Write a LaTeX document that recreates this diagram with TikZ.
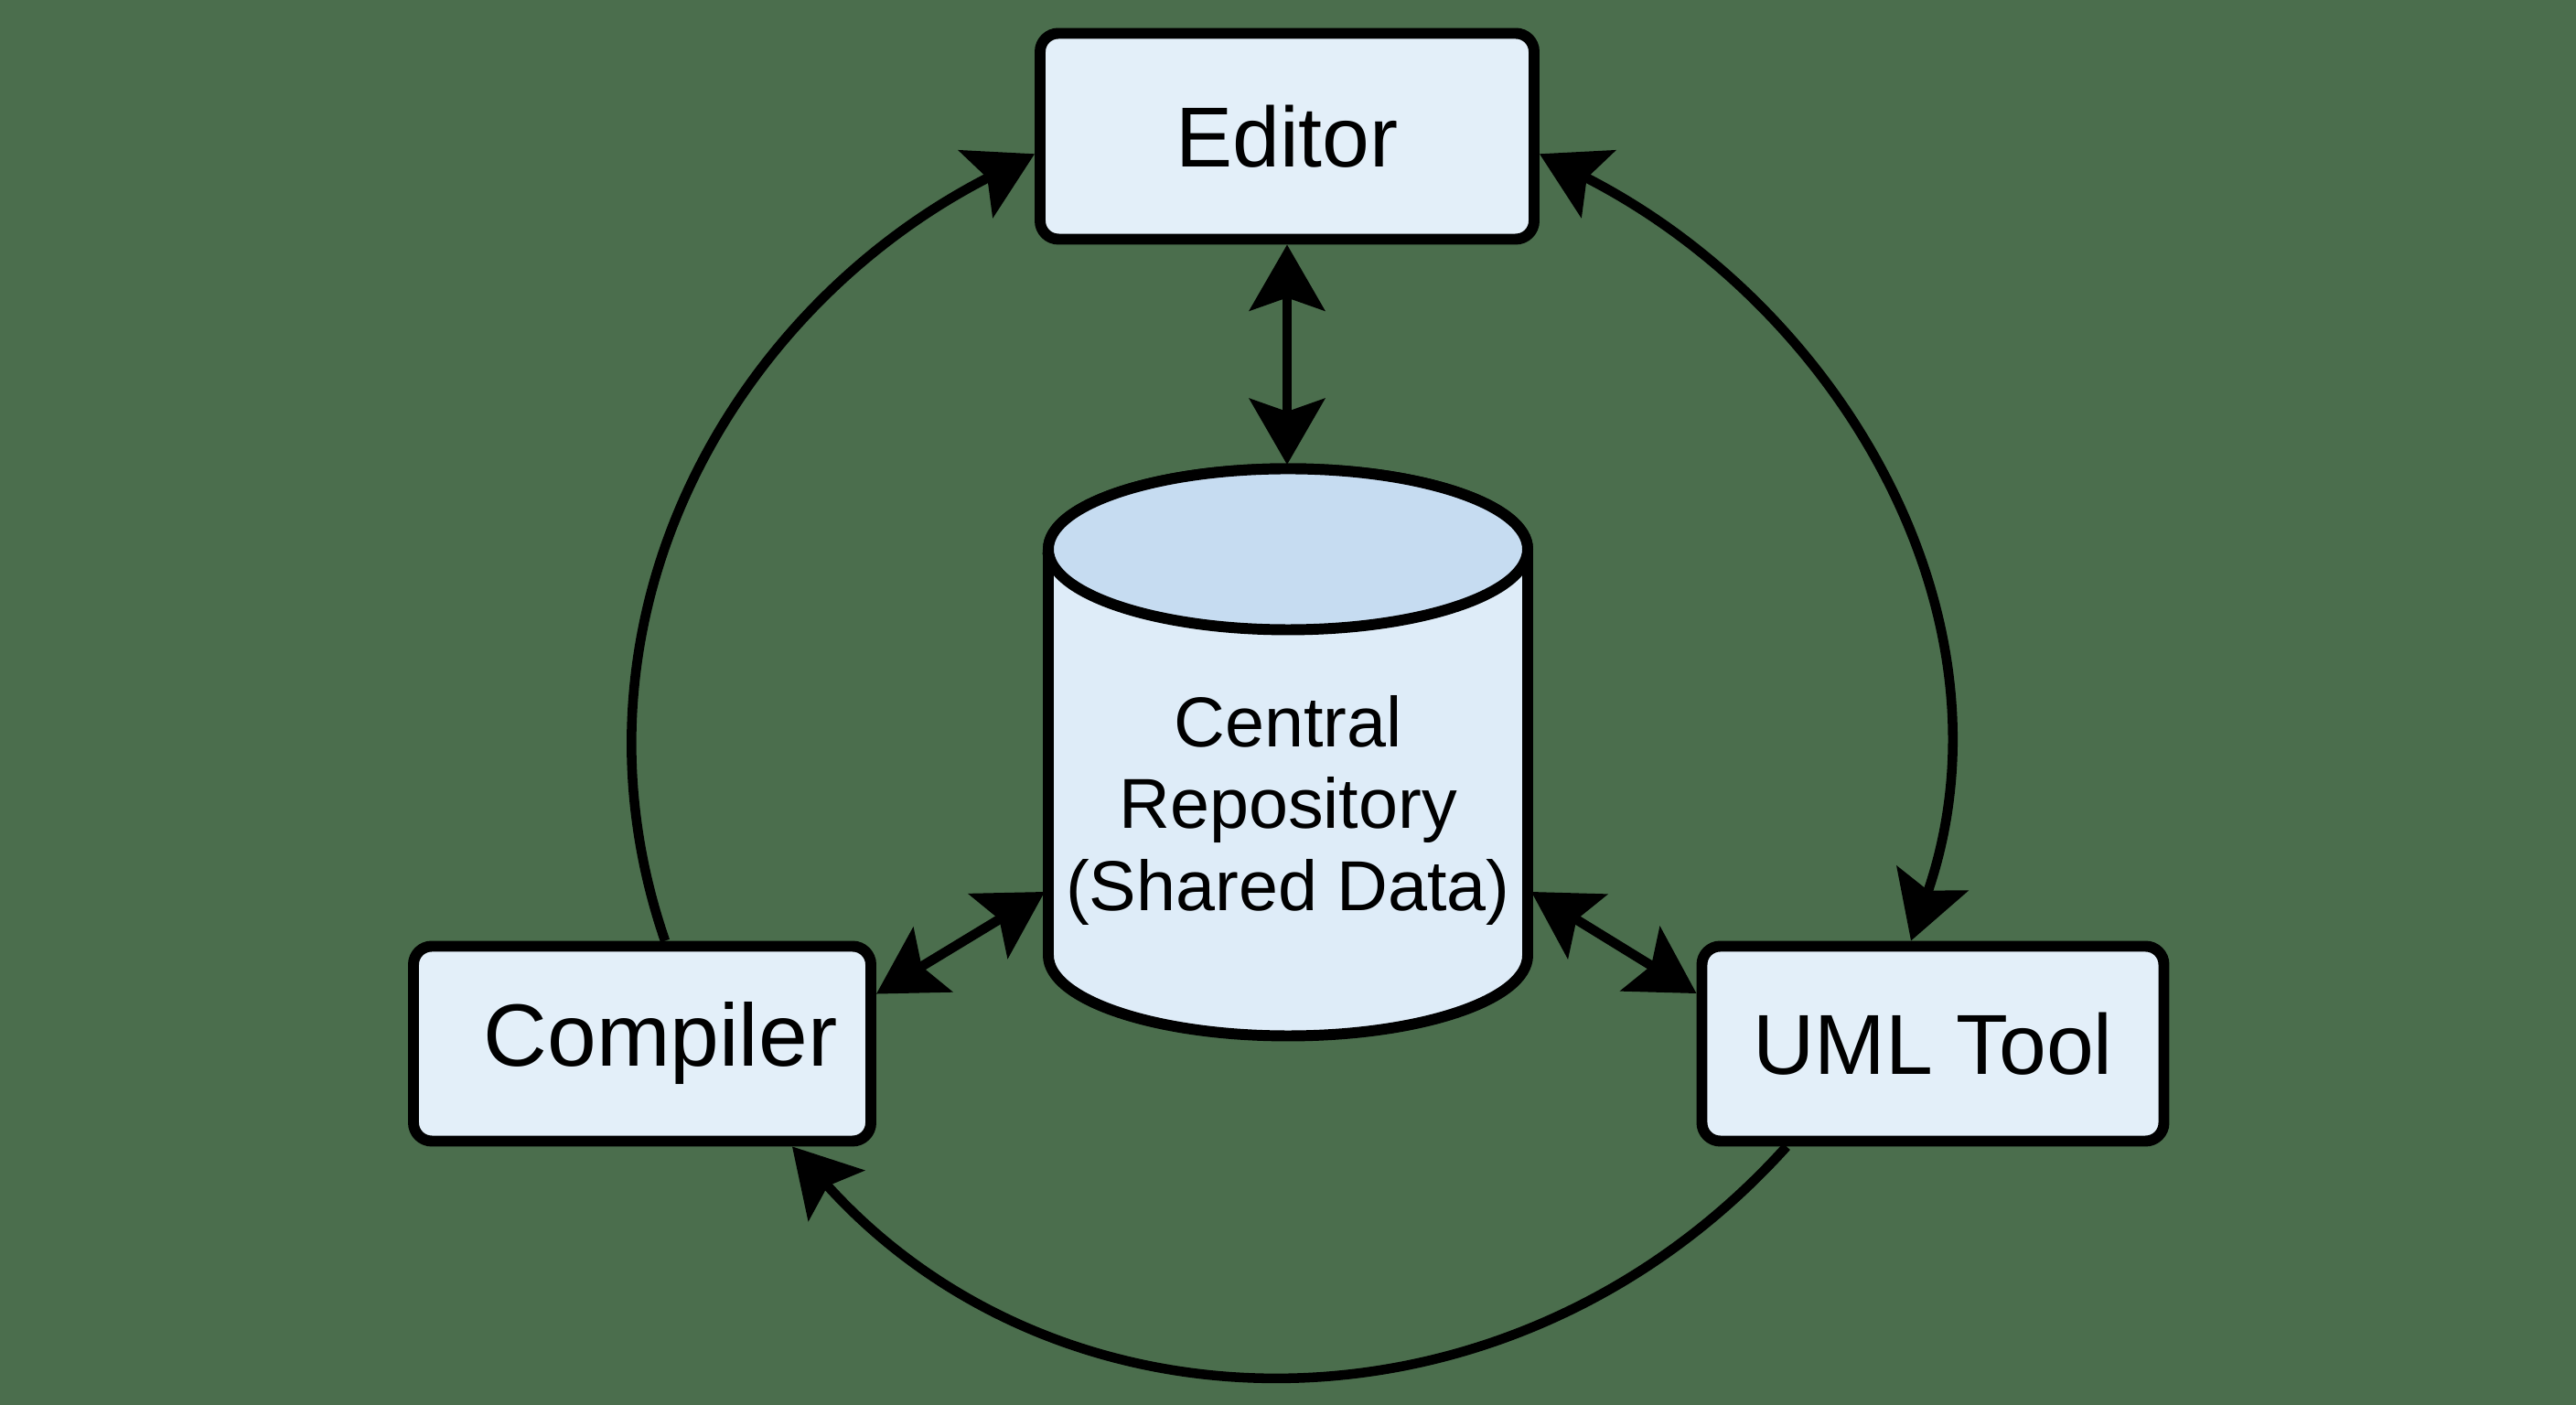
\documentclass[tikz,border=0pt]{standalone}
\usepackage{fontspec}
\setmainfont{Liberation Sans}
\usetikzlibrary{arrows.meta}
\definecolor{bggreen}{RGB}{75,110,77}
\definecolor{boxfill}{RGB}{227,239,249}
\definecolor{cylbody}{RGB}{222,236,248}
\definecolor{cyltop}{RGB}{198,220,241}
\begin{document}
\begin{tikzpicture}[
  tool/.style={draw=black, line width=3.4pt, fill=boxfill, rounded corners=0.2cm,
    minimum height=2.13cm, font=\fontsize{26.5}{30}\selectfont},
  link/.style={line width=3pt, -{Stealth[length=0.72cm, width=0.82cm, inset=0.14cm]}},
  twoway/.style={line width=3pt, {Stealth[length=0.72cm, width=0.82cm, inset=0.14cm]}-{Stealth[length=0.72cm, width=0.82cm, inset=0.14cm]}}
]
\fill[bggreen] (0,0) rectangle (28.16,15.36);
\useasboundingbox (0,0) rectangle (28.16,15.36);

% the three tools
\node[tool, minimum width=5.4cm, minimum height=2.25cm] (editor) at (14.07,13.87) {Editor};
\node[tool, minimum width=5.0cm, font=\fontsize{27.5}{30}\selectfont] (compiler) at (7.02,3.95) {\hspace*{0.4cm}Compiler};
\node[tool, minimum width=5.05cm] (uml) at (21.13,3.95) {UML Tool};

% repository cylinder
\filldraw[draw=black, line width=3.4pt, fill=cylbody]
  (11.46,9.355) -- (11.46,4.915)
  arc[start angle=180, end angle=360, x radius=2.62cm, y radius=0.88cm]
  -- (16.70,9.355)
  arc[start angle=0, end angle=180, x radius=2.62cm, y radius=0.88cm] -- cycle;
\filldraw[draw=black, line width=3.4pt, fill=cyltop] (14.08,9.355) ellipse [x radius=2.62cm, y radius=0.88cm];
\node[align=center, font=\fontsize{22}{25.6}\selectfont] (repo) at (14.08,6.50)
  {Central\\Repository\\(Shared Data)};
\coordinate (repotop) at (14.07,10.28);
\coordinate (repoleft) at (11.42,5.61);
\coordinate (reporight) at (16.74,5.61);

% links to the repository
\draw[twoway] (editor.south) -- (repotop);
\draw[twoway] (compiler.12) -- (repoleft);
\draw[twoway] (reporight) -- (uml.168);

% outer cycle
\draw[link] ([xshift=0.25cm]compiler.north) to[out=109, in=207] (editor.184);
\draw[twoway] (editor.-4) to[out=-27, in=71] ([xshift=-0.24cm]uml.north);
\draw[link] ([xshift=-1.6cm]uml.south) to[out=228, in=-48, looseness=1.05] ([xshift=1.64cm]compiler.south);
\end{tikzpicture}
\end{document}
